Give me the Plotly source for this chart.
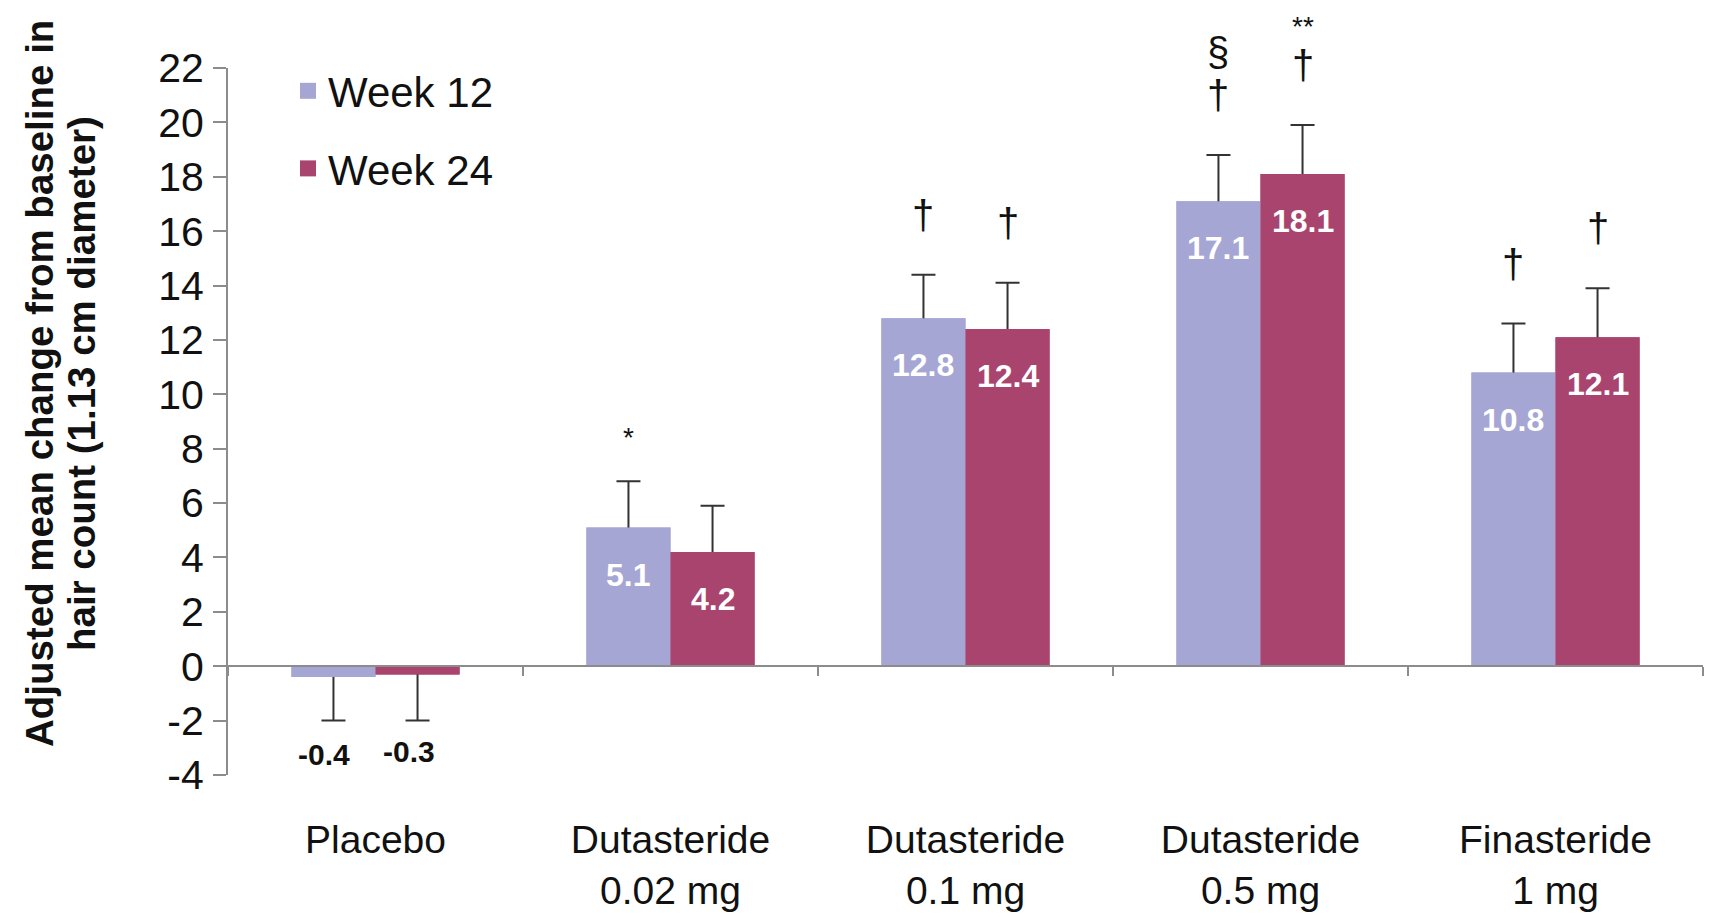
import plotly.graph_objects as go

categories = ["Placebo", "Dutasteride<br>0.02 mg", "Dutasteride<br>0.1 mg",
              "Dutasteride<br>0.5 mg", "Finasteride<br>1 mg"]
series_names = ["Week 12", "Week 24"]
week12 = [-0.4, 5.1, 12.8, 17.1, 10.8]
week24 = [-0.3, 4.2, 12.4, 18.1, 12.1]
err12 = [1.6, 1.7, 1.6, 1.7, 1.8]
err24 = [1.7, 1.7, 1.7, 1.8, 1.8]
# significance markers (category index, series index, symbol, level)
sig_marks = [
    (1, 0, "*", 0), (2, 0, "†", 0), (2, 1, "†", 0),
    (3, 0, "†", 0), (3, 0, "§", 1), (3, 1, "†", 0), (3, 1, "**", 2),
    (4, 0, "†", 0), (4, 1, "†", 0),
]
y_ticks = list(range(-4, 23, 2))
y_ticktext = [str(t) for t in y_ticks]
y_title_lines = ["Adjusted mean change from baseline in", "hair count (1.13 cm diameter)"]

C12 = "#A6A6D4"
C24 = "#A9446F"
FONT = "Liberation Sans, Arial, sans-serif"
BARGAP = 0.43
Y_RANGE = [-4, 22]
# page body has an 8px default margin, so the figure is 8px smaller than the window
FIG_W, FIG_H = 1709, 910
L_MARGIN, R_MARGIN, T_MARGIN, B_MARGIN = 220, 14, 60, 143
PLOT_W = FIG_W - L_MARGIN - R_MARGIN
PLOT_H = FIG_H - T_MARGIN - B_MARGIN

values = [week12, week24]
errors = [err12, err24]
colors = [C12, C24]

fig = go.Figure()

# base bars carry error bars (lower part hidden under overlay bars)
for vals, errs, col, name in zip(values, errors, colors, series_names):
    up = [e if v >= 0 else -v / 2 for v, e in zip(vals, errs)]
    dn = [v / 2 if v >= 0 else e for v, e in zip(vals, errs)]
    fig.add_trace(go.Bar(
        x=categories, y=vals, name=name, marker=dict(color=col, line=dict(width=0)),
        error_y=dict(type="data", symmetric=False, array=up, arrayminus=dn,
                     color="#333333", thickness=2, width=12),
        showlegend=False, xaxis="x", yaxis="y"))

# overlay bars (drawn on top, hide error stems inside bars)
for vals, col, name in zip(values, colors, series_names):
    fig.add_trace(go.Bar(
        x=categories, y=vals, name=name, marker=dict(color=col, line=dict(width=0)),
        showlegend=False, xaxis="x2", yaxis="y2", hoverinfo="skip"))

# legend entries
for col, name, grp in zip(colors, series_names, ["a", "b"]):
    fig.add_trace(go.Scatter(
        x=[None], y=[None], mode="markers", name=name, legendgroup=grp,
        marker=dict(symbol="square", size=16, color=col)))

annotations = []
half = (1 - BARGAP) / 4
offsets = [-half, half]
for s, (vals, errs) in enumerate(zip(values, errors)):
    for i, v in enumerate(vals):
        xpos = i + offsets[s]
        if v >= 0:
            annotations.append(dict(
                x=xpos, y=v, xref="x", yref="y", text=f"<b>{v:.1f}</b>",
                showarrow=False, yshift=-47, yanchor="middle",
                font=dict(family=FONT, size=32, color="white")))
        else:
            annotations.append(dict(
                x=xpos, y=v, xref="x", yref="y", text=f"<b>{v:.1f}</b>",
                showarrow=False, yshift=-77, xshift=-9, yanchor="middle",
                font=dict(family=FONT, size=30, color="#111111")))

level_shift = {0: 60, 1: 103, 2: 99}
for i, s, sym, lvl in sig_marks:
    v = values[s][i]
    e = errors[s][i]
    size = 28 if "*" in sym else 40
    shift = 44 if (sym == "*") else level_shift[lvl]
    annotations.append(dict(
        x=i + offsets[s], y=v + e, xref="x", yref="y", text=sym,
        showarrow=False, yshift=shift, yanchor="middle",
        font=dict(family=FONT, size=size, color="#111111")))

for line, px in zip(y_title_lines, [31, 73]):
    annotations.append(dict(
        x=(px - L_MARGIN) / PLOT_W, y=0.553, xref="paper", yref="paper", textangle=-90,
        text=f"<b>{line}</b>", showarrow=False, xanchor="center", yanchor="middle",
        font=dict(family=FONT, size=38.5, color="#111111")))

fig.update_layout(
    width=FIG_W, height=FIG_H,
    margin=dict(l=L_MARGIN, r=R_MARGIN, t=T_MARGIN, b=B_MARGIN),
    paper_bgcolor="white", plot_bgcolor="white",
    barmode="group", bargap=BARGAP, bargroupgap=0,
    font=dict(family=FONT, color="#111111"),
    showlegend=True,
    legend=dict(x=(280 - L_MARGIN) / PLOT_W, y=1 + 11 / PLOT_H, xanchor="left", yanchor="top",
                font=dict(family=FONT, size=42, color="#111111"),
                tracegroupgap=20, bgcolor="rgba(0,0,0,0)", itemwidth=30),
    xaxis=dict(type="category", categoryarray=categories, range=[-0.5, 4.5],
               showline=False, ticks="", showgrid=False, zeroline=False, automargin=False,
               tickfont=dict(family=FONT, size=39, color="#111111"),
               ticklabelstandoff=38),
    xaxis2=dict(type="category", categoryarray=categories, range=[-0.5, 4.5],
                overlaying="x", anchor="free", position=(0 - Y_RANGE[0]) / (Y_RANGE[1] - Y_RANGE[0]),
                showline=True, linecolor="#8c8c8c", linewidth=2,
                ticks="outside", tickson="boundaries", ticklen=9, tickcolor="#8c8c8c",
                tickwidth=2, showticklabels=False, showgrid=False, zeroline=False),
    yaxis=dict(range=Y_RANGE, tickvals=y_ticks, ticktext=y_ticktext, showline=True,
               linecolor="#8c8c8c", linewidth=2, ticks="outside", ticklen=13,
               tickcolor="#8c8c8c", tickwidth=2, showgrid=False, zeroline=False,
               automargin=False,
               tickfont=dict(family=FONT, size=41, color="#111111"),
               ticklabelstandoff=1),
    yaxis2=dict(range=Y_RANGE, overlaying="y", visible=False, anchor="x2"),
    annotations=annotations,
)

fig.write_html("out.html")
